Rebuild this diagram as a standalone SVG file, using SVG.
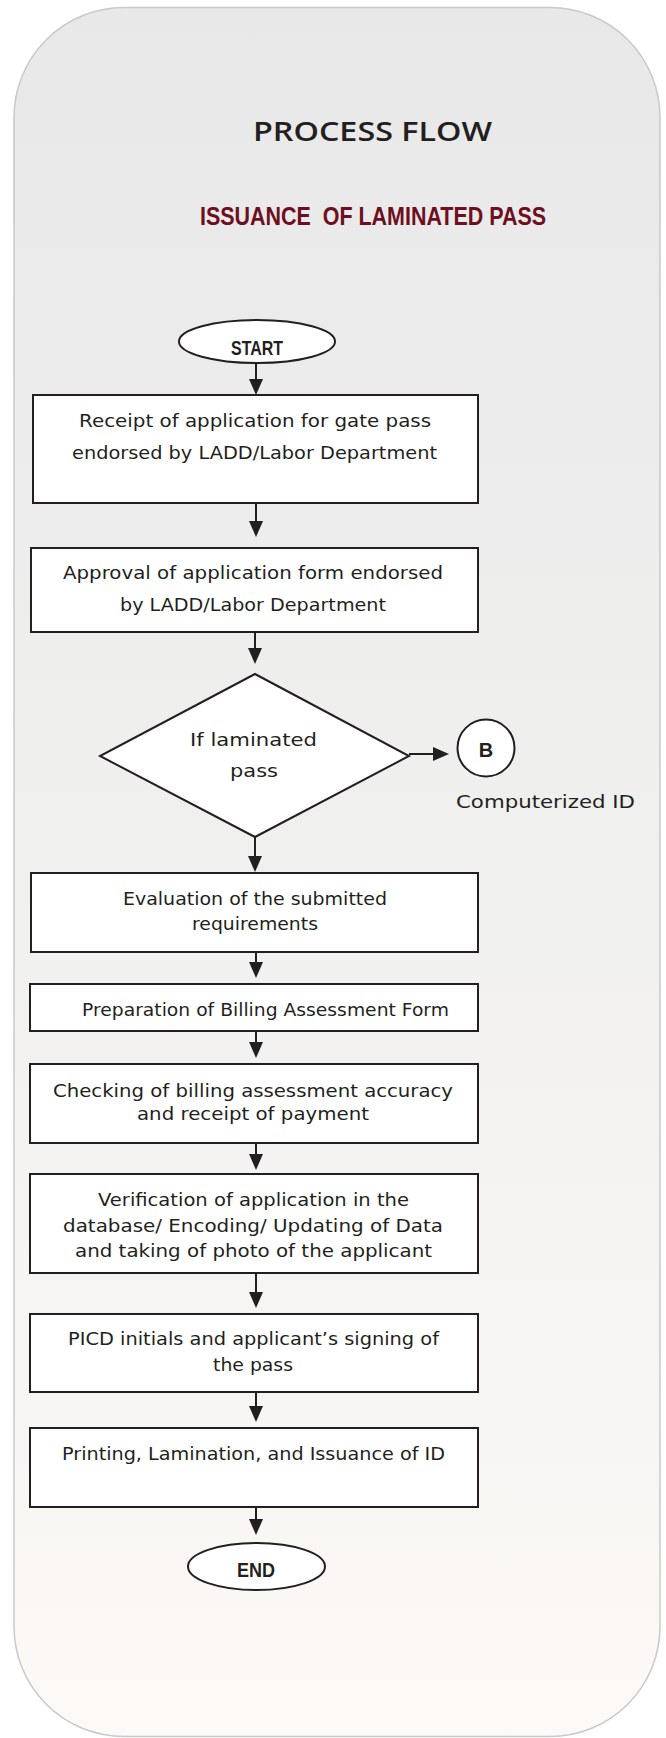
<svg xmlns="http://www.w3.org/2000/svg" width="666" height="1738" viewBox="0 0 666 1738">
  <defs>
    <linearGradient id="panelFill" x1="0" y1="0" x2="0" y2="1">
      <stop offset="0" stop-color="#e8e8e8"/>
      <stop offset="0.5" stop-color="#f0f0ef"/>
      <stop offset="1" stop-color="#fcf9f6"/>
    </linearGradient>
    <marker id="arrowHead" viewBox="0 0 16 14" refX="8" refY="7" markerWidth="16" markerHeight="14" markerUnits="userSpaceOnUse" orient="auto">
      <path d="M0,0 L16,7 L0,14 z" fill="#231f20"/>
    </marker>
    <style>
      .box { fill: #ffffff; stroke: #231f20; stroke-width: 2; }
      .lbl { font-family: "DejaVu Sans", "Liberation Sans", sans-serif; font-size: 18px; fill: #231f20; }
      .term { font-family: "Liberation Sans", "DejaVu Sans", sans-serif; font-size: 20px; font-weight: bold; fill: #231f20; }
      .conn { fill: none; stroke: #231f20; stroke-width: 2; marker-end: url(#arrowHead); }
    </style>
  </defs>

  <!-- rounded panel -->
  <rect x="14" y="7.5" width="646" height="1729" rx="110" ry="110" fill="url(#panelFill)" stroke="#c9c9cc" stroke-width="1.5"/>

  <!-- headings -->
  <text x="253" y="141" textLength="239" lengthAdjust="spacingAndGlyphs" font-family="Open Sans, DejaVu Sans, sans-serif" font-size="27" font-weight="600" fill="#231f20">PROCESS FLOW</text>
  <text x="200" y="225" textLength="346" lengthAdjust="spacingAndGlyphs" xml:space="preserve" font-family="Liberation Sans, DejaVu Sans, sans-serif" font-size="25" font-weight="bold" fill="#6e0f1f">ISSUANCE  OF LAMINATED PASS</text>

  <!-- connectors -->
  <g id="connectors">
    <path class="conn" d="M256,363 V387"/>
    <path class="conn" d="M256,503 V529"/>
    <path class="conn" d="M255,632 V656"/>
    <path class="conn" d="M255,837 V864"/>
    <path class="conn" d="M256,952 V970"/>
    <path class="conn" d="M256,1031 V1050"/>
    <path class="conn" d="M256,1143 V1162"/>
    <path class="conn" d="M256,1273 V1300"/>
    <path class="conn" d="M256,1392 V1414"/>
    <path class="conn" d="M256,1507 V1527"/>
    <path class="conn" d="M409,754 H441"/>
  </g>

  <g id="start">
    <ellipse cx="257" cy="341.5" rx="78" ry="21.5" class="box"/>
    <text x="231" y="355" textLength="52" lengthAdjust="spacingAndGlyphs" class="term">START</text>
  </g>

  <g id="receipt">
    <rect x="33" y="395" width="445" height="108" class="box"/>
    <text class="lbl" x="79" y="427" textLength="352" lengthAdjust="spacingAndGlyphs">Receipt of application for gate pass</text>
    <text class="lbl" x="72" y="459" textLength="365" lengthAdjust="spacingAndGlyphs">endorsed by LADD/Labor Department</text>
  </g>

  <g id="approval">
    <rect x="31" y="548" width="447" height="84" class="box"/>
    <text class="lbl" x="63" y="579" textLength="380" lengthAdjust="spacingAndGlyphs">Approval of application form endorsed</text>
    <text class="lbl" x="120" y="611" textLength="266" lengthAdjust="spacingAndGlyphs">by LADD/Labor Department</text>
  </g>

  <g id="decision">
    <polygon points="255,674 409,756 255,837 100,756" class="box"/>
    <text class="lbl" x="190" y="746" textLength="127" lengthAdjust="spacingAndGlyphs">If laminated</text>
    <text class="lbl" x="230" y="777" textLength="48" lengthAdjust="spacingAndGlyphs">pass</text>
  </g>

  <g id="connectorB">
    <circle cx="486" cy="748" r="28.5" class="box"/>
    <text x="486" y="757" text-anchor="middle" class="term" font-size="19">B</text>
    <text class="lbl" x="456" y="808" textLength="179" lengthAdjust="spacingAndGlyphs">Computerized ID</text>
  </g>

  <g id="evaluation">
    <rect x="31" y="873" width="447" height="79" class="box"/>
    <text class="lbl" x="123" y="905" textLength="264" lengthAdjust="spacingAndGlyphs">Evaluation of the submitted</text>
    <text class="lbl" x="192" y="930" textLength="126" lengthAdjust="spacingAndGlyphs">requirements</text>
  </g>

  <g id="billing">
    <rect x="30" y="984" width="448" height="47" class="box"/>
    <text class="lbl" x="82" y="1016" textLength="367" lengthAdjust="spacingAndGlyphs">Preparation of Billing Assessment Form</text>
  </g>

  <g id="checking">
    <rect x="30" y="1064" width="448" height="79" class="box"/>
    <text class="lbl" x="53" y="1097" textLength="400" lengthAdjust="spacingAndGlyphs">Checking of billing assessment accuracy</text>
    <text class="lbl" x="137" y="1120" textLength="232" lengthAdjust="spacingAndGlyphs">and receipt of payment</text>
  </g>

  <g id="verification">
    <rect x="30" y="1174" width="448" height="99" class="box"/>
    <text class="lbl" x="98" y="1206" textLength="311" lengthAdjust="spacingAndGlyphs">Verification of application in the</text>
    <text class="lbl" x="63" y="1232" textLength="380" lengthAdjust="spacingAndGlyphs">database/ Encoding/ Updating of Data</text>
    <text class="lbl" x="75" y="1257" textLength="357" lengthAdjust="spacingAndGlyphs">and taking of photo of the applicant</text>
  </g>

  <g id="signing">
    <rect x="30" y="1314" width="448" height="78" class="box"/>
    <text class="lbl" x="68" y="1345" textLength="371" lengthAdjust="spacingAndGlyphs">PICD initials and applicant’s signing of</text>
    <text class="lbl" x="213" y="1371" textLength="80" lengthAdjust="spacingAndGlyphs">the pass</text>
  </g>

  <g id="printing">
    <rect x="30" y="1428" width="448" height="79" class="box"/>
    <text class="lbl" x="62" y="1460" textLength="383" lengthAdjust="spacingAndGlyphs">Printing, Lamination, and Issuance of ID</text>
  </g>

  <g id="end">
    <ellipse cx="256.5" cy="1566.5" rx="68.5" ry="23.5" class="box"/>
    <text x="237" y="1577" textLength="38" lengthAdjust="spacingAndGlyphs" class="term" font-size="19">END</text>
  </g>
</svg>
